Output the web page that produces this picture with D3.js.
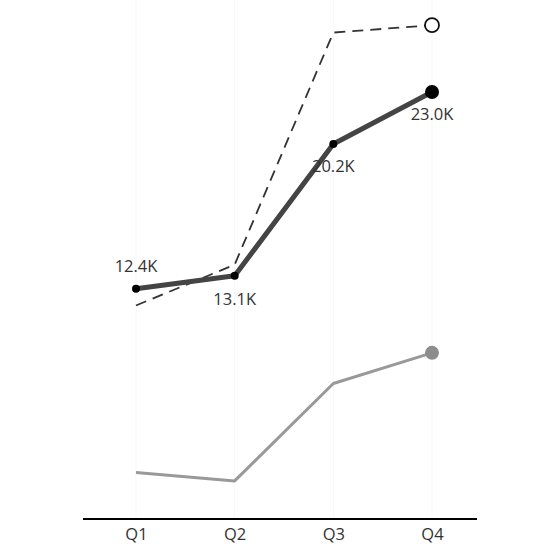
<!DOCTYPE html>
<html><head><meta charset="utf-8">
<script src="https://cdn.jsdelivr.net/npm/d3@7"></script>
<style>html,body{margin:0;padding:0;background:#fff;}svg{display:block;}</style>
</head><body>
<svg id="c" width="560" height="560"></svg>
<script>
const categories = ["Q1","Q2","Q3","Q4"];
const actual = [12.4, 13.1, 20.2, 23.0];
const target = [11.5, 13.7, 26.2, 26.6];
const prior = [2.5, 2.05, 7.3, 8.95];

const svg = d3.select("#c");
const font = "'Open Sans', 'Segoe UI', sans-serif";
const x = d3.scalePoint().domain(categories).range([136, 432]);
const y = d3.scaleLinear().domain([0, 23.0]).range([519, 92]);

// faint vertical gridlines
svg.append("g").selectAll("line").data(categories).join("line")
  .attr("x1", d => x(d)).attr("x2", d => x(d))
  .attr("y1", 0).attr("y2", 519)
  .attr("stroke", "#f7f7f7").attr("stroke-width", 1);

const line = d3.line().x((d, i) => x(categories[i])).y(d => y(d));

// prior (gray)
svg.append("path").datum(prior).attr("d", line)
  .attr("fill", "none").attr("stroke", "#999").attr("stroke-width", 3)
  .attr("stroke-linejoin", "round");
svg.append("circle").attr("cx", x("Q4")).attr("cy", y(prior[3])).attr("r", 7).attr("fill", "#8c8c8c");

// target (dashed)
svg.append("path").datum(target).attr("d", line)
  .attr("fill", "none").attr("stroke", "#333").attr("stroke-width", 1.8)
  .attr("stroke-dasharray", "11,7");
svg.append("circle").attr("cx", x("Q4")).attr("cy", y(target[3])).attr("r", 7)
  .attr("fill", "#fff").attr("stroke", "#111").attr("stroke-width", 1.8);

// actual
svg.append("path").datum(actual).attr("d", line)
  .attr("fill", "none").attr("stroke", "#444").attr("stroke-width", 5)
  .attr("stroke-linejoin", "round");
svg.append("g").selectAll("circle").data(actual).join("circle")
  .attr("cx", (d, i) => x(categories[i])).attr("cy", d => y(d))
  .attr("r", (d, i) => i === 3 ? 7 : 4).attr("fill", "#000");

// labels
const labelDy = [-17, 29, 28, 28];
svg.append("g").selectAll("text").data(actual).join("text")
  .attr("x", (d, i) => x(categories[i]))
  .attr("y", (d, i) => y(d) + labelDy[i])
  .attr("text-anchor", "middle")
  .attr("font-family", font).attr("font-size", 16.5).attr("fill", "#333")
  .text(d => d.toFixed(1) + "K");

// x axis
const ax = svg.append("g").attr("transform", "translate(0,519)")
  .call(d3.axisBottom(x).tickSize(0).tickPadding(9));
ax.select(".domain").attr("d", "M83,0H477").attr("stroke", "#000").attr("stroke-width", 2);
ax.selectAll("text").attr("font-family", font).attr("font-size", 16.5).attr("fill", "#333");
</script>
</body></html>
